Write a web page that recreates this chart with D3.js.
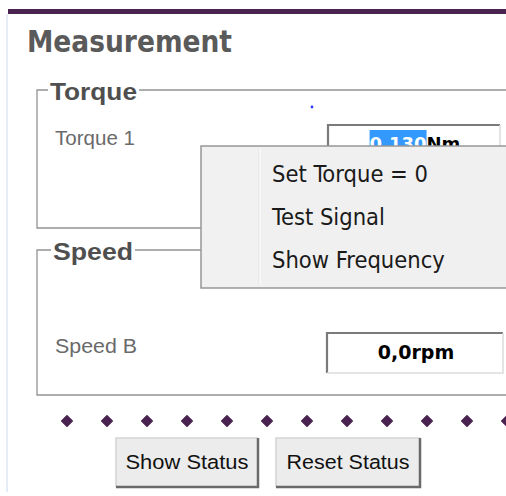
<!DOCTYPE html>
<meta charset="utf-8">
<title>Measurement</title>
<style>
body { margin: 0; background: #fff; }
svg { display: block; }
.title { font-family: "DejaVu Sans Condensed", "DejaVu Sans", sans-serif; font-weight: bold; fill: #5a5a5a; }
.group { font-family: "Liberation Sans", Arial, sans-serif; font-weight: bold; fill: #4f4f4f; }
.label { font-family: "Liberation Sans", Arial, sans-serif; fill: #6a6a6a; }
.value { font-family: "DejaVu Sans", sans-serif; font-weight: bold; fill: #000; }
.menu text { font-family: "DejaVu Sans Condensed", "DejaVu Sans", sans-serif; fill: #1a1a1a; }
.btn text { font-family: "Liberation Sans", Arial, sans-serif; fill: #111; }
</style>
<script src="https://cdn.jsdelivr.net/npm/d3@7"></script>
<body>
<script>
var width = 506, height = 496;

// page content
var title = "Measurement";
var groups = ["Torque", "Speed"];
var fieldLabels = ["Torque 1", "Speed B"];
var fieldValues = ["0.130", "0,0"];
var fieldUnits = ["Nm", "rpm"];
var menuItems = ["Set Torque = 0", "Test Signal", "Show Frequency"];
var buttonLabels = ["Show Status", "Reset Status"];
var dotCount = 12;

var purple = "#4a2350";
var svg = d3.select("body").append("svg")
    .attr("width", width)
    .attr("height", height);

// page frame
svg.append("line")
    .attr("x1", 7).attr("x2", 7).attr("y1", 14).attr("y2", 492)
    .attr("stroke", "#e6ecf6").attr("stroke-width", 2);
svg.append("rect")
    .attr("x", 8).attr("y", 9).attr("width", width - 8).attr("height", 5)
    .attr("fill", purple);

svg.append("text").attr("class", "title")
    .attr("x", 27).attr("y", 52)
    .attr("font-size", 31)
    .attr("textLength", 205).attr("lengthAdjust", "spacingAndGlyphs")
    .text(title);

// group boxes: top / bottom of each frame
var boxTop = [90, 250], boxBottom = [228, 395];
var labelX = [50, 53], labelW = [87, 80];

var g = svg.selectAll("g.groupbox")
    .data(groups)
  .enter().append("g")
    .attr("class", "groupbox");

g.append("path")
    .attr("d", function(d, i) {
      return "M" + (width + 5) + "," + boxTop[i] + "H37V" + boxBottom[i] + "H" + (width + 5);
    })
    .attr("fill", "none")
    .attr("stroke", "#939393")
    .attr("stroke-width", 1.3);

g.append("rect")
    .attr("x", function(d, i) { return labelX[i] - 2; })
    .attr("y", function(d, i) { return boxTop[i] - 10; })
    .attr("width", function(d, i) { return labelW[i] + 4; })
    .attr("height", 20)
    .attr("fill", "#fff");

g.append("text").attr("class", "group")
    .attr("x", function(d, i) { return labelX[i]; })
    .attr("y", function(d, i) { return boxTop[i] + 10; })
    .attr("font-size", 23)
    .attr("textLength", function(d, i) { return labelW[i]; })
    .attr("lengthAdjust", "spacingAndGlyphs")
    .text(function(d) { return d; });

// fields
var fieldY = [145, 353];
var fieldBox = [{x: 328, y: 125, w: 172}, {x: 327, y: 333, w: 176}];

svg.selectAll("text.label")
    .data(fieldLabels)
  .enter().append("text")
    .attr("class", "label")
    .attr("x", 55)
    .attr("y", function(d, i) { return fieldY[i]; })
    .attr("font-size", 19.5)
    .attr("textLength", function(d, i) { return [80, 82][i]; })
    .attr("lengthAdjust", "spacingAndGlyphs")
    .text(function(d) { return d; });

var fb = svg.selectAll("g.field")
    .data(fieldValues)
  .enter().append("g")
    .attr("class", "field")
    .attr("transform", function(d, i) { return "translate(" + fieldBox[i].x + "," + fieldBox[i].y + ")"; });

fb.append("rect")
    .attr("width", function(d, i) { return fieldBox[i].w; })
    .attr("height", 40)
    .attr("fill", "#fff");
fb.append("path")
    .attr("d", function(d, i) { return "M0,40V0H" + fieldBox[i].w; })
    .attr("fill", "none").attr("stroke", "#7a7a7a").attr("stroke-width", 2.2);
fb.append("path")
    .attr("d", function(d, i) { return "M" + fieldBox[i].w + ",0V40H0"; })
    .attr("fill", "none").attr("stroke", "#dcdcdc").attr("stroke-width", 1.5);

var hl = fb.append("rect")
    .attr("fill", "#3399ff")
    .attr("display", function(d, i) { return i === 0 ? null : "none"; });

var vt = fb.append("text").attr("class", "value")
    .attr("x", function(d, i) { return fieldBox[i].w / 2 + 1; })
    .attr("y", function(d, i) { return i === 0 ? 25 : 26; })
    .attr("font-size", function(d, i) { return i === 0 ? 18 : 19; })
    .attr("text-anchor", "middle");
vt.append("tspan")
    .attr("fill", function(d, i) { return i === 0 ? "#fff" : "#000"; })
    .text(function(d) { return d; });
vt.append("tspan")
    .text(function(d, i) { return fieldUnits[i]; });

// selection highlight behind the torque value
vt.each(function(d, i) {
  if (i !== 0) return;
  var start = this.getStartPositionOfChar(0).x;
  var w = this.getSubStringLength(0, d.length);
  d3.select(hl.nodes()[i])
      .attr("x", start).attr("y", 5)
      .attr("width", w).attr("height", 22);
  hl.nodes()[i].parentNode.insertBefore(hl.nodes()[i], this);
});

// small blue cursor mark
svg.append("circle")
    .attr("cx", 312).attr("cy", 107).attr("r", 1.4)
    .attr("fill", "#2a3cff");

// dotted separator
var xDot = d3.scaleLinear().domain([0, dotCount - 1]).range([67, 507]);
svg.selectAll("path.dot")
    .data(d3.range(dotCount))
  .enter().append("path")
    .attr("class", "dot")
    .attr("d", d3.symbol().type(d3.symbolDiamond2).size(70))
    .attr("transform", function(d) { return "translate(" + xDot(d) + ",421)"; })
    .attr("fill", purple)
    .attr("stroke", purple)
    .attr("stroke-width", 1.6)
    .attr("stroke-linejoin", "round");

// buttons
var btnX = [116, 276], btnW = [142, 144];
var btn = svg.selectAll("g.btn")
    .data(buttonLabels)
  .enter().append("g")
    .attr("class", "btn")
    .attr("transform", function(d, i) { return "translate(" + btnX[i] + ",438)"; });
btn.append("rect")
    .attr("width", function(d, i) { return btnW[i]; })
    .attr("height", 49)
    .attr("fill", "#ececec");
btn.append("path")
    .attr("d", function(d, i) { return "M0,49V0H" + btnW[i]; })
    .attr("fill", "none").attr("stroke", "#d4d4d4").attr("stroke-width", 1.5);
btn.append("path")
    .attr("d", function(d, i) { return "M" + btnW[i] + ",0V49H0"; })
    .attr("fill", "none").attr("stroke", "#6a6a6a").attr("stroke-width", 2.5);
btn.append("text")
    .attr("x", function(d, i) { return btnW[i] / 2; })
    .attr("y", 31)
    .attr("text-anchor", "middle")
    .attr("font-size", 20.5)
    .attr("textLength", 123).attr("lengthAdjust", "spacingAndGlyphs")
    .text(function(d) { return d; });

// context menu
var menu = svg.append("g").attr("class", "menu")
    .attr("transform", "translate(201,146)");
menu.append("rect")
    .attr("width", width).attr("height", 142)
    .attr("fill", "#f0f0f0")
    .attr("stroke", "#979797").attr("stroke-width", 1.5);
menu.append("rect")
    .attr("x", 2).attr("y", 2).attr("width", 56).attr("height", 138)
    .attr("fill", "#f1f1f1");
menu.append("line")
    .attr("x1", 58).attr("x2", 58).attr("y1", 3).attr("y2", 139)
    .attr("stroke", "#e0e0e0").attr("stroke-width", 1);
menu.append("line")
    .attr("x1", 59).attr("x2", 59).attr("y1", 3).attr("y2", 139)
    .attr("stroke", "#fff").attr("stroke-width", 1);

var yMenu = d3.scalePoint().domain(menuItems).range([36, 122]);
menu.selectAll("text")
    .data(menuItems)
  .enter().append("text")
    .attr("x", 71)
    .attr("y", function(d) { return yMenu(d); })
    .attr("font-size", 23.5)
    .text(function(d) { return d; });
</script>
</body>
